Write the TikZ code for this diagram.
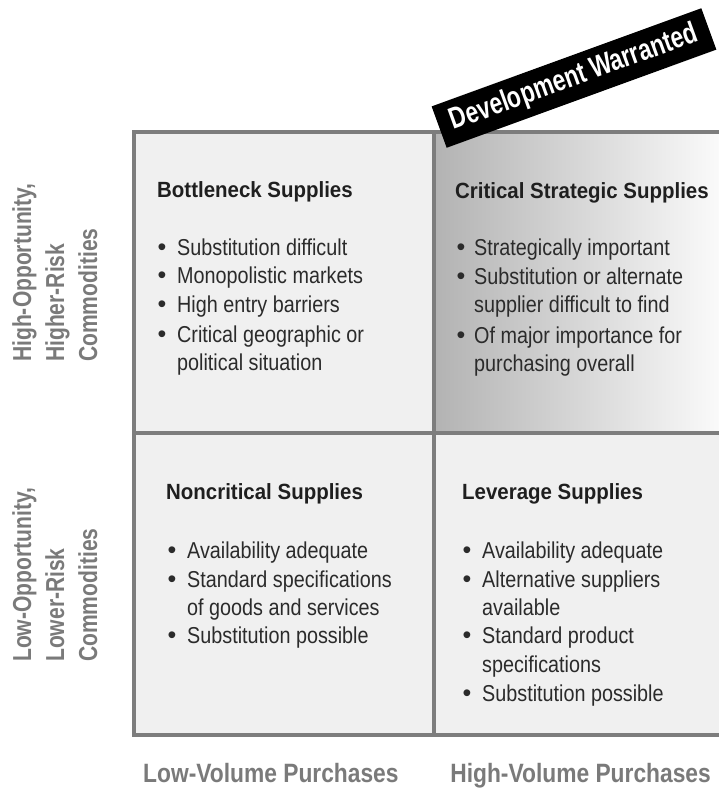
\documentclass[tikz,border=0pt]{standalone}
\usepackage{fontspec}
\setmainfont{Liberation Sans}
\newfontfamily\bodyf[FakeStretch=0.86]{Liberation Sans}
\newfontfamily\axisf[FakeStretch=0.81]{Liberation Sans}
\newfontfamily\botf[FakeStretch=0.86]{Liberation Sans}
\newfontfamily\titf[FakeStretch=0.93]{Liberation Sans}
\newfontfamily\banf[FakeStretch=0.76]{Liberation Sans}
\definecolor{gridc}{HTML}{7D7D7D}
\definecolor{cellc}{HTML}{F0F0F0}
\definecolor{axisc}{HTML}{7A7A7A}
\definecolor{txtc}{HTML}{2B2B2B}
\begin{document}
\begin{tikzpicture}[x=1pt,y=-1pt,
  title/.style={anchor=base west, inner sep=0pt, font=\titf\bfseries\fontsize{22}{25}\selectfont, text=black!88},
  item/.style={anchor=base west, inner sep=0pt, font=\bodyf\fontsize{23}{26}\selectfont, text=txtc},
  bul/.style={anchor=base, inner sep=0pt, font=\fontsize{25}{28}\selectfont, text=txtc},
  axis/.style={anchor=base west, inner sep=0pt, font=\axisf\bfseries\fontsize{26}{28}\selectfont, text=axisc},
  botaxis/.style={anchor=base west, inner sep=0pt, font=\botf\bfseries\fontsize{26.5}{28}\selectfont, text=axisc},
  gridline/.style={draw=gridc, line width=4pt}]
\useasboundingbox (0,0) rectangle (719,788);
\fill[white] (0,0) rectangle (719,788);
% cells
\fill[cellc] (134,132) rectangle (434,433);
\shade[left color=black!30, right color=black!2] (434,132) rectangle (719,433);
\fill[cellc] (134,433) rectangle (719,735);
% grid
\draw[gridline] (719,132) -- (134,132) -- (134,735) -- (719,735);
\draw[gridline] (434,132) -- (434,735);
\draw[gridline] (134,433) -- (719,433);
% banner
\node[rotate=20, fill=black, minimum width=287pt, minimum height=44pt, inner sep=0pt,
      text=white, font=\banf\bfseries\fontsize{30}{32}\selectfont] (dev) at (574,78) {Development Warranted};
% top-left
\node[title] (tlt) at (157,197) {Bottleneck Supplies};
\foreach \y/\t [count=\i] in {255/Substitution difficult, 283/Monopolistic markets, 312/High entry barriers, 342/Critical geographic or, 370/political situation}
  \node[item] (tl\i) at (177,\y) {\t};
\foreach \y [count=\i] in {255,283,312,342}
  \node[bul] (tlb\i) at (162,\y) {•};
% top-right
\node[title] (trt) at (455,198) {Critical Strategic Supplies};
\foreach \y/\t [count=\i] in {255/Strategically important, 284/Substitution or alternate, 312/supplier difficult to find, 343/Of major importance for, 371/purchasing overall}
  \node[item] (tr\i) at (474,\y) {\t};
\foreach \y [count=\i] in {255,284,343}
  \node[bul] (trb\i) at (461,\y) {•};
% bottom-left
\node[title] (blt) at (166,499) {Noncritical Supplies};
\foreach \y/\t [count=\i] in {558/Availability adequate, 587/Standard specifications, 615/of goods and services, 643/Substitution possible}
  \node[item] (bl\i) at (187,\y) {\t};
\foreach \y [count=\i] in {558,587,643}
  \node[bul] (blb\i) at (172,\y) {•};
% bottom-right
\node[title] (brt) at (462,499) {Leverage Supplies};
\foreach \y/\t [count=\i] in {558/Availability adequate, 587/Alternative suppliers, 615/available, 643/Standard product, 672/specifications, 701/Substitution possible}
  \node[item] (br\i) at (482,\y) {\t};
\foreach \y [count=\i] in {558,587,643,701}
  \node[bul] (brb\i) at (467,\y) {•};
% axis labels
\node[axis, rotate=90] (ha) at (31,362) {High-Opportunity,};
\node[axis, rotate=90] (hb) at (64,362) {Higher-Risk};
\node[axis, rotate=90] (hc) at (97,362) {Commodities};
\node[axis, rotate=90] (la) at (31,662) {Low-Opportunity,};
\node[axis, rotate=90] (lb) at (64,662) {Lower-Risk};
\node[axis, rotate=90] (lc) at (97,662) {Commodities};
\node[botaxis] (lv) at (143,782) {Low-Volume Purchases};
\node[botaxis, anchor=base east] (hv) at (711,782) {High-Volume Purchases};
\end{tikzpicture}
\end{document}
